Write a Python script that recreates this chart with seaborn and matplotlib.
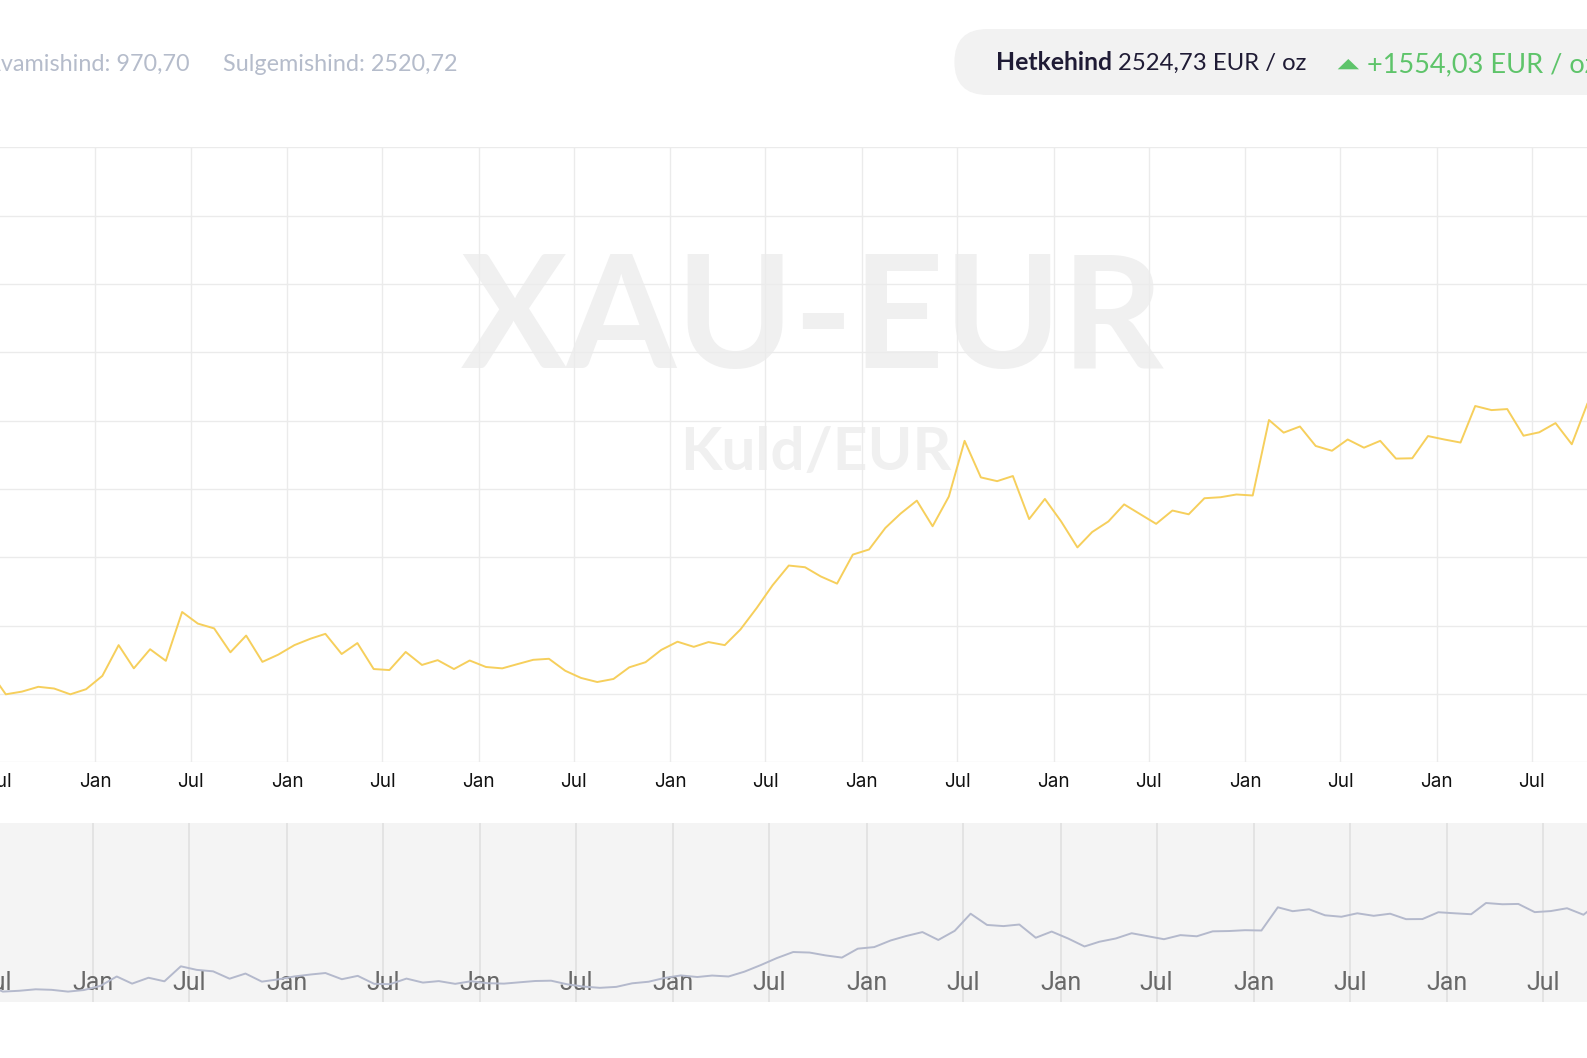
import numpy as np
import pandas as pd
import matplotlib
matplotlib.use("Agg")
import matplotlib.pyplot as plt
import matplotlib.dates as mdates
from matplotlib.patches import FancyBboxPatch, Polygon
from matplotlib.transforms import IdentityTransform
import seaborn as sns

# ---------------- data (monthly XAU/EUR) ----------------
price_2015 = [1065, 999, 1007, 1021, 1016, 999, 1014]            # Jun-Dec
price_2016 = [1053, 1143, 1075, 1131, 1097, 1240, 1206, 1192, 1122, 1171, 1094, 1115]
price_2017 = [1143, 1162, 1176, 1117, 1149, 1073, 1070, 1123, 1085, 1099, 1073, 1098]
price_2018 = [1079, 1075, 1087, 1100, 1103, 1068, 1047, 1035, 1044, 1078, 1093, 1129]
price_2019 = [1153, 1138, 1152, 1143, 1189, 1252, 1318, 1376, 1371, 1344, 1323, 1408]
price_2020 = [1423, 1486, 1528, 1566, 1491, 1578, 1741, 1634, 1623, 1638, 1512, 1571]
price_2021 = [1505, 1429, 1474, 1505, 1555, 1526, 1498, 1537, 1526, 1573, 1576, 1584]
price_2022 = [1581, 1802, 1765, 1783, 1726, 1712, 1745, 1721, 1741, 1689, 1690, 1755]
price_2023 = [1745, 1736, 1843, 1831, 1834, 1756, 1766, 1793, 1731, 1851]  # Jan-Oct

first_month = "2015-06-01"
last_month = "2023-10-01"

opening_label = "Avamishind: 970,70"
closing_label = "Sulgemishind: 2520,72"
current_title = "Hetkehind"
current_value = "2524,73 EUR / oz"
change_value = "+1554,03 EUR / oz"
watermark_main = "XAU-EUR"
watermark_sub = "Kuld/EUR"
y_ticks = list(range(800, 2601, 200))

prices = (price_2015 + price_2016 + price_2017 + price_2018 + price_2019 +
          price_2020 + price_2021 + price_2022 + price_2023)
dates = pd.date_range(first_month, last_month, freq="MS") + pd.Timedelta(days=14)
df = pd.DataFrame({"date": dates, "price": prices})

# ---------------- styling ----------------
sns.set_theme(style="white")
plt.rcParams["font.family"] = ["Lato", "DejaVu Sans"]

W, H = 1587, 1058
fig = plt.figure(figsize=(W / 100, H / 100), dpi=100)
fig.patch.set_facecolor("white")

def fx(px):
    return px / W

def fy(py):
    return 1 - py / H

origin = pd.Timestamp("2016-01-01")

# ---------------- main chart ----------------
main_top, main_bot = 147.4, 762.3
ax = fig.add_axes([fx(-20), fy(main_bot), fx(1627), (main_bot - main_top) / H])
sns.lineplot(data=df, x="date", y="price", ax=ax, color="#f6cf5c", linewidth=1.4, zorder=3)
ax.set_xlim(origin + pd.Timedelta(days=(-20 - 95) / 0.5248),
            origin + pd.Timedelta(days=(1607 - 95) / 0.5248))
ax.set_ylim(800, 2600)
ax.set_yticks(y_ticks)
ax.set_yticklabels([])
ax.xaxis.set_major_locator(mdates.MonthLocator(bymonth=[1, 7]))
ax.xaxis.set_major_formatter(mdates.DateFormatter("%b"))
ax.tick_params(axis="x", length=0, pad=7.5, labelsize=13.6, labelcolor="#111111")
ax.tick_params(axis="y", length=0)
ax.grid(True, color="#ebebeb", linewidth=1.0)
ax.set_axisbelow(True)
for s in ax.spines.values():
    s.set_visible(False)
ax.set_xlabel("")
ax.set_ylabel("")
plt.setp(ax.get_xticklabels(), fontfamily=["Inter", "DejaVu Sans"])

# watermark (below the grid)
ax.text(fx(812.7), fy(367.7), watermark_main, transform=fig.transFigure,
        ha="center", va="baseline", fontsize=114, fontweight="bold",
        color="#f0f0f0", zorder=0.1)
ax.text(fx(815.5), fy(470), watermark_sub, transform=fig.transFigure,
        ha="center", va="baseline", fontsize=43.5, fontweight="bold",
        color="#f0f0f0", zorder=0.1)

# ---------------- navigator ----------------
nav_top, nav_bot = 823, 1002
nav = fig.add_axes([fx(-20), fy(nav_bot), fx(1627), (nav_bot - nav_top) / H])
nav.set_facecolor("#f4f4f4")
sns.lineplot(data=df, x="date", y="price", ax=nav, color="#b4b9cc", linewidth=1.4, zorder=3)
nav.set_xlim(origin + pd.Timedelta(days=(-20 - 92.9) / 0.5297),
             origin + pd.Timedelta(days=(1607 - 92.9) / 0.5297))
nav.set_ylim(900, 2605)
nav.set_yticks([])
nav.xaxis.set_major_locator(mdates.MonthLocator(bymonth=[1, 7]))
nav.xaxis.set_major_formatter(mdates.DateFormatter("%b"))
nav.tick_params(axis="x", length=0, pad=-22, labelsize=18, labelcolor="#686868")
nav.grid(True, axis="x", color="#dedede", linewidth=1.1)
nav.set_axisbelow(True)
for s in nav.spines.values():
    s.set_visible(False)
nav.set_xlabel("")
nav.set_ylabel("")
plt.setp(nav.get_xticklabels(), fontfamily=["Roboto", "DejaVu Sans"])

# ---------------- header ----------------
grey = "#b5bccb"
fig.text(fx(190), fy(70.7), opening_label, ha="right", va="baseline",
         fontsize=16.8, color=grey)
fig.text(fx(222.7), fy(70.7), closing_label, ha="left", va="baseline",
         fontsize=16.8, color=grey)

pill = FancyBboxPatch((954.4, H - 95), 800, 66,
                      boxstyle="round,pad=0,rounding_size=33",
                      transform=IdentityTransform(), facecolor="#f2f2f2",
                      edgecolor="none")
fig.add_artist(pill)

dark = "#1f1b35"
fig.text(fx(995.7), fy(70), current_title, ha="left", va="baseline",
         fontsize=17.8, fontweight="bold", color=dark)
fig.text(fx(1118.3), fy(70), current_value, ha="left", va="baseline",
         fontsize=17.2, color=dark)

green = "#5ec46a"
tri = Polygon([[1337.7, H - 69.3], [1359, H - 69.3], [1348.3, H - 59]],
              closed=True, transform=IdentityTransform(), facecolor=green,
              edgecolor="none")
fig.add_artist(tri)
fig.text(fx(1366.7), fy(72.3), change_value, ha="left", va="baseline",
         fontsize=19.5, fontweight="normal", color=green)

fig.savefig("out.png", dpi=100)
